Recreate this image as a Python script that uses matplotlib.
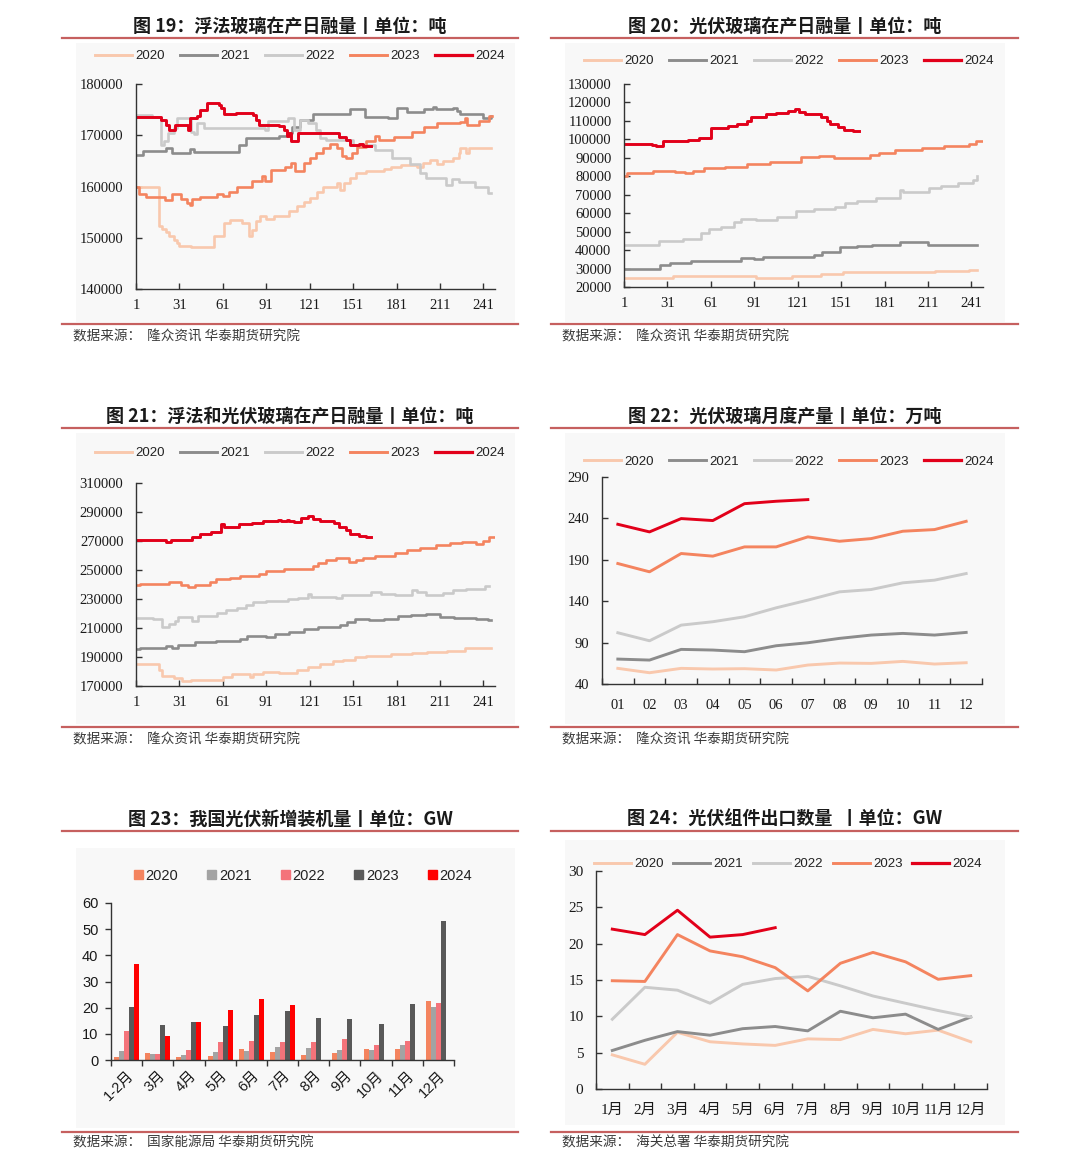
import numpy as np
import matplotlib.pyplot as plt
from matplotlib.lines import Line2D
from matplotlib.patches import Rectangle, Patch

plt.rcParams['font.family'] = ['Liberation Sans', 'Noto Sans CJK SC']

# ---------------- data ----------------
years = ['2020', '2021', '2022', '2023', '2024']

# 图19 浮法玻璃在产日融量 (day, value) breakpoints
f19_2020_d = [1, 17, 19, 22, 24, 27, 29, 31, 39, 55, 62, 66, 74, 79, 81, 84, 87, 91, 96, 107, 112, 117, 121, 126, 130,
              140, 142, 145, 149, 153, 160, 172, 177, 184, 195, 199, 204, 209, 213, 220, 224, 225, 229, 231, 246]
f19_2020_v = [160000, 152200, 151800, 151200, 150300, 149600, 149000, 148400, 148100, 150300, 152900, 153400, 152900,
              150300, 151600, 153200, 154200, 153600, 154200, 155200, 156200, 156900, 157700, 159000, 160000, 160600,
              159400, 160600, 161600, 162600, 163100, 163500, 163900, 164200, 163900, 164500, 165100, 164400, 164900,
              165500, 166500, 167500, 166500, 167500, 167500]
f19_2021_d = [1, 6, 22, 26, 38, 41, 72, 77, 90, 100, 105, 109, 114, 123, 149, 159, 175, 181, 188, 200, 206, 208, 220,
              223, 225, 241, 246]
f19_2021_v = [166200, 167000, 167600, 166500, 167300, 166800, 168100, 169400, 169500, 169800, 170500, 171700, 173000,
              174200, 175100, 173600, 173300, 175300, 174600, 175100, 175600, 175100, 175300, 174800, 174200, 173300,
              173800]
f19_2022_d = [1, 12, 18, 20, 23, 27, 29, 39, 41, 43, 48, 90, 92, 106, 110, 114, 120, 125, 128, 132, 151, 166, 178, 190,
              197, 201, 215, 219, 224, 235, 244, 246]
f19_2022_v = [174000, 173600, 168100, 168800, 170400, 171500, 173300, 170700, 170200, 172300, 171400, 171000, 172700,
              173300, 171000, 173000, 172300, 171000, 169400, 169100, 168100, 167100, 165500, 164400, 162600, 161600,
              160300, 161400, 160800, 160000, 158800, 158800]
f19_2023_d = [1, 3, 8, 21, 26, 32, 36, 38, 40, 45, 57, 61, 65, 71, 81, 88, 90, 94, 104, 108, 111, 117, 121, 125, 130,
              135, 140, 143, 146, 150, 154, 160, 166, 169, 179, 192, 200, 209, 225, 228, 230, 238, 245, 247]
f19_2023_v = [160000, 158600, 158000, 157300, 158500, 157500, 156800, 156300, 157500, 158000, 158500, 158200, 159000,
              160000, 161000, 162000, 161000, 163300, 163800, 164500, 163000, 164500, 165500, 166500, 167500, 168200,
              167500, 166000, 165600, 166500, 167800, 168800, 169900, 169100, 169600, 170700, 171700, 172300, 172600,
              173300, 172000, 172700, 173800, 173800]
f19_2024_d = [1, 18, 22, 24, 28, 37, 38, 43, 45, 50, 58, 60, 62, 70, 82, 84, 86, 100, 103, 105, 107, 108, 113, 141,
              146, 149, 155, 158, 163]
f19_2024_v = [173500, 173000, 172000, 171000, 172000, 171000, 173300, 173800, 175000, 176200, 176000, 175300, 174200,
              174400, 174000, 173000, 172000, 171800, 171000, 169800, 170500, 168800, 170400, 169700, 169100, 168100,
              168300, 168000, 168000]

# 图20 光伏玻璃在产日融量
f20_2020_d = [1, 35, 92, 117, 137, 152, 216, 239, 245]
f20_2020_v = [25000, 26000, 25000, 26000, 27000, 28000, 28500, 29000, 29000]
f20_2021_d = [1, 10, 26, 33, 47, 82, 91, 97, 132, 138, 150, 162, 172, 192, 211, 245]
f20_2021_v = [29500, 30000, 32000, 33000, 34000, 35500, 35000, 36000, 37500, 39000, 41500, 42000, 43000, 44500,
              42500, 42500]
f20_2022_d = [1, 25, 42, 54, 60, 68, 77, 82, 92, 107, 120, 132, 147, 154, 162, 175, 192, 194, 212, 220, 232, 242, 245]
f20_2022_v = [42700, 45000, 46000, 49000, 51500, 52500, 55000, 57000, 56500, 58000, 61000, 62000, 63500, 65500,
              66500, 68000, 72500, 71500, 73500, 74500, 76500, 78000, 80000]
f20_2023_d = [1, 3, 21, 36, 43, 49, 56, 71, 86, 102, 123, 136, 146, 171, 177, 188, 207, 222, 239, 244, 248]
f20_2023_v = [80000, 82000, 83000, 82300, 81800, 82800, 84700, 85200, 86500, 88000, 90500, 91000, 90000, 91500,
              92500, 94000, 95500, 96500, 97500, 99000, 99000]
f20_2024_d = [1, 20, 23, 28, 45, 53, 61, 73, 79, 86, 89, 99, 106, 114, 119, 122, 126, 137, 141, 143, 149, 153, 159, 163]
f20_2024_v = [97500, 97000, 96200, 99000, 99700, 100500, 106000, 107500, 108500, 110000, 112000, 113500, 114500,
              115500, 116300, 115000, 113500, 112000, 110000, 108500, 106500, 105200, 104700, 104700]

# 图21 浮法和光伏玻璃在产日融量
f21_2020_d = [1, 17, 19, 27, 33, 39, 61, 67, 80, 82, 89, 100, 112, 120, 128, 137, 144, 152, 160, 177, 192, 202, 216,
              228, 246]
f21_2020_v = [185000, 181000, 177000, 175500, 173500, 174000, 176000, 178000, 176000, 178500, 179500, 179000, 181000,
              183000, 185000, 187000, 188000, 190000, 190500, 192000, 192500, 193500, 194000, 196500, 196500]
f21_2021_d = [1, 4, 22, 26, 30, 42, 56, 73, 78, 91, 97, 107, 117, 127, 142, 147, 152, 162, 172, 182, 191, 201, 211,
              221, 236, 244, 246]
f21_2021_v = [195500, 196500, 197500, 196000, 198500, 200500, 201000, 202500, 204500, 204000, 206000, 207500, 209500,
              210500, 212000, 214000, 216000, 215500, 216500, 218500, 219000, 219500, 217500, 217000, 216000, 215500,
              215500]
f21_2022_d = [1, 13, 19, 24, 28, 30, 40, 44, 57, 63, 71, 77, 82, 91, 106, 113, 120, 122, 139, 143, 163, 170, 180, 192,
              195, 201, 213, 220, 229, 242, 245]
f21_2022_v = [217000, 216500, 211000, 212500, 215000, 217500, 215000, 218000, 220500, 222500, 224000, 226000, 228000,
              228500, 230000, 231000, 233500, 231500, 230500, 232500, 235000, 233500, 232800, 236500, 234500, 233000,
              234000, 236000, 237000, 239000, 239000]
f21_2023_d = [1, 4, 24, 32, 37, 42, 52, 56, 66, 73, 86, 91, 103, 118, 123, 127, 132, 139, 148, 153, 158, 166, 180, 188,
              197, 208, 218, 226, 236, 241, 245, 248]
f21_2023_v = [239500, 240500, 242000, 240000, 238500, 240000, 242000, 243500, 244500, 246000, 247500, 249000, 251000,
              250500, 252500, 255000, 257000, 258000, 255500, 257000, 258500, 260000, 261500, 263500, 265500, 267000,
              268500, 269500, 268000, 270000, 272500, 272500]
f21_2024_d = [1, 11, 22, 25, 28, 40, 45, 53, 60, 62, 72, 81, 89, 99, 101, 105, 107, 110, 115, 120, 123, 128, 138, 141,
              146, 149, 155, 160, 163]
f21_2024_v = [271000, 270500, 269000, 270500, 271000, 272500, 274500, 276500, 281500, 280000, 281500, 282500, 283500,
              284500, 283800, 284800, 283800, 283000, 285800, 287000, 285500, 284000, 282500, 280000, 277500, 275000,
              273500, 272500, 272500]

# 图22 光伏玻璃月度产量 (万吨)
months22 = ['01', '02', '03', '04', '05', '06', '07', '08', '09', '10', '11', '12']
f22_2020 = [58.9, 53.6, 58.9, 58.1, 58.5, 56.9, 62.9, 65.3, 64.9, 67.3, 64.1, 65.7]
f22_2021 = [70.1, 68.9, 81.8, 81.0, 79.0, 86.2, 89.8, 95.1, 99.1, 101.1, 99.1, 102.3]
f22_2022 = [101.9, 92.2, 111.1, 115.2, 121.2, 132.0, 141.3, 151.3, 154.1, 162.2, 165.4, 173.4]
f22_2023 = [185.5, 175.5, 197.6, 194.4, 205.6, 205.6, 217.7, 212.4, 215.6, 224.5, 226.5, 236.5]
f22_2024 = [232.9, 223.7, 239.8, 237.4, 257.8, 260.7, 262.7]

# 图23 我国光伏新增装机量 (GW)
months23 = ['1-2月', '3月', '4月', '5月', '6月', '7月', '8月', '9月', '10月', '11月', '12月']
f23_2020 = [1.2, 2.6, 1.1, 1.5, 4.1, 3.0, 2.1, 2.5, 4.3, 4.1, 22.4]
f23_2021 = [3.4, 2.2, 1.9, 2.9, 3.3, 5.0, 4.4, 3.7, 3.9, 5.6, 20.2]
f23_2022 = [10.9, 2.4, 3.7, 6.8, 7.1, 6.7, 6.7, 8.0, 5.6, 7.4, 21.6]
f23_2023 = [20.4, 13.4, 14.7, 12.9, 17.2, 18.7, 16.0, 15.8, 13.6, 21.3, 53.0]
f23_2024 = [36.7, 9.0, 14.4, 19.0, 23.4, 21.0, np.nan, np.nan, np.nan, np.nan, np.nan]

# 图24 光伏组件出口数量 (GW)
months24 = ['1月', '2月', '3月', '4月', '5月', '6月', '7月', '8月', '9月', '10月', '11月', '12月']
f24_2020 = [4.7, 3.4, 7.8, 6.5, 6.2, 6.0, 6.9, 6.8, 8.2, 7.6, 8.1, 6.5]
f24_2021 = [5.3, 6.7, 7.9, 7.4, 8.3, 8.6, 8.0, 10.7, 9.8, 10.3, 8.2, 9.9]
f24_2022 = [9.6, 14.0, 13.6, 11.8, 14.4, 15.2, 15.5, 14.2, 12.8, 11.8, 10.8, 9.9]
f24_2023 = [14.9, 14.8, 21.25, 19.0, 18.2, 16.7, 13.5, 17.3, 18.8, 17.5, 15.1, 15.6]
f24_2024 = [22.0, 21.25, 24.6, 20.9, 21.25, 22.2]

# ---------------- style ----------------
line_colors = ['#F9C8AD', '#8C8C8C', '#CACACA', '#F4845F', '#E2001A']
line_widths = [1.9, 1.9, 1.9, 1.9, 2.1]
bar_colors = ['#F4845F', '#A3A3A3', '#F4737A', '#595959', '#FF0000']
rule_color = '#C6605F'
serif = ['Liberation Serif', 'Noto Sans CJK SC']
sans = ['Liberation Sans', 'Noto Sans CJK SC']
cjk = ['Noto Sans CJK SC', 'DejaVu Sans']

W, H = 1080, 1176
fig = plt.figure(figsize=(W / 100, H / 100), dpi=100)


def rect(l, t, r, b):
    return [l / W, 1 - b / H, (r - l) / W, (b - t) / H]


def frame(x0, x1, title, rule1, box, rule2, source, title_y, src_y):
    fig.add_artist(Rectangle((box[0] / W, 1 - box[3] / H), (box[2] - box[0]) / W, (box[3] - box[1]) / H,
                             transform=fig.transFigure, facecolor='#F8F8F8', edgecolor='none', zorder=-5))
    for yy in (rule1, rule2):
        fig.add_artist(Line2D([x0 / W, x1 / W], [1 - yy / H, 1 - yy / H], transform=fig.transFigure,
                              color=rule_color, lw=1.6))
    fig.text((x0 + x1) / 2 / W, 1 - title_y / H, title, ha='center', va='center', family=cjk,
             fontsize=13, fontweight='bold', color='#1A1A1A')
    fig.text((x0 + 11) / W, 1 - src_y / H, source, ha='left', va='center', family=cjk,
             fontsize=9.8, color='#3A3A3A')


def style_axes(ax, tick_dir='in', fam=serif, size=10.5):
    ax.set_facecolor('none')
    for s in ('top', 'right'):
        ax.spines[s].set_visible(False)
    for s in ('left', 'bottom'):
        ax.spines[s].set_linewidth(1.0)
        ax.spines[s].set_color('#333333')
    ax.tick_params(axis='both', which='both', direction=tick_dir, length=4, width=1.0, color='#333333',
                   labelsize=size)
    for lab in ax.get_xticklabels() + ax.get_yticklabels():
        lab.set_family(fam)
        lab.set_color('#1A1A1A')


def line_legend(ax, cx, cy, spacing=1.15):
    handles = [Line2D([], [], color=c, lw=w * 1.1) for c, w in zip(line_colors, line_widths)]
    leg = ax.legend(handles, years, loc='center', bbox_to_anchor=(cx / W, 1 - cy / H),
                    bbox_transform=fig.transFigure, ncol=5, frameon=False, fontsize=9.5,
                    handlelength=2.8, handletextpad=0.25, columnspacing=spacing, borderpad=0)
    for t in leg.get_texts():
        t.set_family(sans)
        t.set_color('#222222')


def daily_panel(pos, series, ylim, yticks):
    ax = fig.add_axes(rect(*pos))
    for (d, v), c, w in zip(series, line_colors, line_widths):
        ax.step(d, v, where='post', color=c, lw=w)
    ax.set_xlim(1, 249)
    ax.set_ylim(*ylim)
    ax.set_xticks([1, 31, 61, 91, 121, 151, 181, 211, 241])
    ax.set_yticks(yticks)
    ax.set_yticklabels([str(t) for t in yticks])
    style_axes(ax)
    ax.tick_params(axis='y', pad=9)
    ax.tick_params(axis='x', pad=7)
    return ax


# ---------------- 图19 ----------------
frame(62, 518, '图 19：浮法玻璃在产日融量丨单位：吨', 38, (76, 43, 515, 322), 324,
      '数据来源：  隆众资讯 华泰期货研究院', 26, 336)
ax1 = daily_panel((136, 84, 495, 289),
                  [(f19_2020_d, f19_2020_v), (f19_2021_d, f19_2021_v), (f19_2022_d, f19_2022_v),
                   (f19_2023_d, f19_2023_v), (f19_2024_d, f19_2024_v)],
                  (140000, 180000), list(range(140000, 180001, 10000)))
line_legend(ax1, 300, 56)

# ---------------- 图20 ----------------
frame(551, 1018, '图 20：光伏玻璃在产日融量丨单位：吨', 38, (565, 43, 1005, 322), 324,
      '数据来源：  隆众资讯 华泰期货研究院', 26, 336)
ax2 = daily_panel((624, 84, 983, 287),
                  [(f20_2020_d, f20_2020_v), (f20_2021_d, f20_2021_v), (f20_2022_d, f20_2022_v),
                   (f20_2023_d, f20_2023_v), (f20_2024_d, f20_2024_v)],
                  (20000, 130000), list(range(20000, 130001, 10000)))
line_legend(ax2, 789, 61)

# ---------------- 图21 ----------------
frame(62, 518, '图 21：浮法和光伏玻璃在产日融量丨单位：吨', 428, (76, 433, 515, 724), 727,
      '数据来源：  隆众资讯 华泰期货研究院', 416, 739)
ax3 = daily_panel((136, 483, 495, 686),
                  [(f21_2020_d, f21_2020_v), (f21_2021_d, f21_2021_v), (f21_2022_d, f21_2022_v),
                   (f21_2023_d, f21_2023_v), (f21_2024_d, f21_2024_v)],
                  (170000, 310000), list(range(170000, 310001, 20000)))
line_legend(ax3, 300, 453)

# ---------------- 图22 ----------------
frame(551, 1018, '图 22：光伏玻璃月度产量丨单位：万吨', 428, (565, 433, 1005, 724), 727,
      '数据来源：  隆众资讯 华泰期货研究院', 416, 739)
ax4 = fig.add_axes(rect(602, 477, 982, 684))
x12 = np.arange(12)
for vals, c in zip([f22_2020, f22_2021, f22_2022, f22_2023, f22_2024], line_colors):
    ax4.plot(x12[:len(vals)], vals, color=c, lw=2.1)
ax4.set_xlim(-0.5, 11.5)
ax4.set_ylim(40, 290)
ax4.set_yticks([40, 90, 140, 190, 240, 290])
ax4.set_xticks(x12)
ax4.set_xticklabels(months22)
ax4.set_xticks(np.arange(-0.5, 12, 1), minor=True)
style_axes(ax4)
ax4.tick_params(axis='x', which='major', length=0, pad=11)
ax4.tick_params(axis='y', pad=9)
line_legend(ax4, 789, 462)

# ---------------- 图23 ----------------
frame(62, 518, '图 23：我国光伏新增装机量丨单位：GW', 831, (76, 848, 515, 1128), 1132,
      '数据来源：  国家能源局 华泰期货研究院', 819, 1142)
ax5 = fig.add_axes(rect(111, 903, 454, 1060))
x11 = np.arange(len(months23))
bw = 0.16
for i, (vals, c) in enumerate(zip([f23_2020, f23_2021, f23_2022, f23_2023, f23_2024], bar_colors)):
    ax5.bar(x11 + (i - 2) * bw, vals, width=bw, color=c, label=years[i])
ax5.set_xlim(-0.5, len(months23) - 0.5)
ax5.set_ylim(0, 60)
ax5.set_yticks(range(0, 61, 10))
ax5.set_xticks(x11)
ax5.set_xticklabels(months23, rotation=45, ha='right', rotation_mode='anchor')
ax5.set_xticks(np.arange(-0.5, len(months23), 1), minor=True)
style_axes(ax5, tick_dir='out', fam=sans, size=10.5)
ax5.tick_params(axis='x', which='major', length=0, pad=6)
ax5.tick_params(axis='y', pad=5)
handles = [Patch(color=c) for c in bar_colors]
leg = ax5.legend(handles, years, loc='center', bbox_to_anchor=(303 / W, 1 - 876 / H),
                 bbox_transform=fig.transFigure, ncol=5, frameon=False, fontsize=10.5,
                 handlelength=0.6, handleheight=0.6, handletextpad=0.2, columnspacing=2.0, borderpad=0)
for t in leg.get_texts():
    t.set_family(sans)
    t.set_color('#222222')

# ---------------- 图24 ----------------
frame(551, 1018, '图 24：光伏组件出口数量  丨单位：GW', 831, (565, 840, 1005, 1125), 1132,
      '数据来源：  海关总署 华泰期货研究院', 819, 1142)
ax6 = fig.add_axes(rect(596, 871, 987, 1089))
for vals, c in zip([f24_2020, f24_2021, f24_2022, f24_2023, f24_2024], line_colors):
    ax6.plot(x12[:len(vals)], vals, color=c, lw=2.1)
ax6.set_xlim(-0.5, 11.5)
ax6.set_ylim(0, 30)
ax6.set_yticks(range(0, 31, 5))
ax6.set_xticks(x12)
ax6.set_xticklabels(months24)
ax6.set_xticks(np.arange(-0.5, 12, 1), minor=True)
style_axes(ax6, size=11)
ax6.tick_params(axis='x', which='major', length=0, pad=11)
ax6.tick_params(axis='y', pad=9)
line_legend(ax6, 788, 864, spacing=0.75)

fig.savefig('out.png', dpi=100, facecolor='white')
